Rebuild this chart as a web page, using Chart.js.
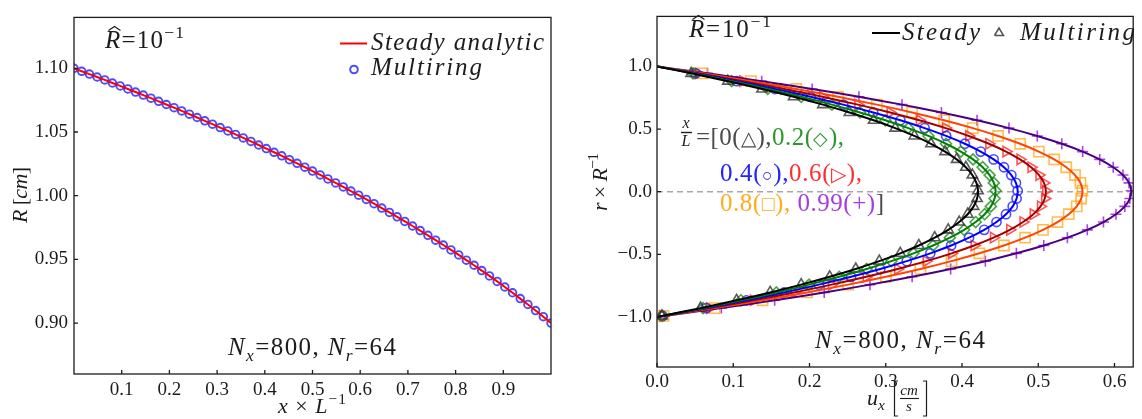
<!DOCTYPE html>
<html>
<head>
<meta charset="utf-8">
<script src="https://cdn.jsdelivr.net/npm/chart.js@4.4.1/dist/chart.umd.min.js"></script>
<style>
  html, body { margin: 0; padding: 0; background: #fff; }
  #wrap { position: relative; width: 1142px; height: 419px; overflow: hidden; background: #fff; }
  #cLeft { position: absolute; left: 0; top: 0; }
  #cRight { position: absolute; left: 570px; top: 0; }
</style>
</head>
<body>
<div id="wrap">
  <canvas id="cLeft" width="570" height="419"></canvas>
  <canvas id="cRight" width="572" height="419"></canvas>
</div>
<script>
// ---- left panel: tube radius along the axis (steady analytic = multiring) ----
const xAlong = [0, 0.0161, 0.0323, 0.0484, 0.0645, 0.0806, 0.0968, 0.1129, 0.1290, 0.1452,
  0.1613, 0.1774, 0.1935, 0.2097, 0.2258, 0.2419, 0.2581, 0.2742, 0.2903, 0.3065,
  0.3226, 0.3387, 0.3548, 0.3710, 0.3871, 0.4032, 0.4194, 0.4355, 0.4516, 0.4677,
  0.4839, 0.5000, 0.5161, 0.5323, 0.5484, 0.5645, 0.5806, 0.5968, 0.6129, 0.6290,
  0.6452, 0.6613, 0.6774, 0.6935, 0.7097, 0.7258, 0.7419, 0.7581, 0.7742, 0.7903,
  0.8065, 0.8226, 0.8387, 0.8548, 0.8710, 0.8871, 0.9032, 0.9194, 0.9355, 0.9516,
  0.9677, 0.9839, 1.0];
const radius = [1.1000, 1.0977, 1.0955, 1.0932, 1.0909, 1.0885, 1.0862, 1.0838, 1.0814, 1.0790,
  1.0766, 1.0741, 1.0716, 1.0691, 1.0666, 1.0640, 1.0614, 1.0588, 1.0562, 1.0535,
  1.0509, 1.0481, 1.0454, 1.0426, 1.0398, 1.0370, 1.0341, 1.0313, 1.0283, 1.0254,
  1.0224, 1.0193, 1.0163, 1.0132, 1.0100, 1.0069, 1.0036, 1.0004, 0.9971, 0.9937,
  0.9903, 0.9869, 0.9834, 0.9798, 0.9762, 0.9726, 0.9689, 0.9651, 0.9613, 0.9574,
  0.9535, 0.9494, 0.9454, 0.9412, 0.9370, 0.9327, 0.9283, 0.9238, 0.9192, 0.9146,
  0.9098, 0.9050, 0.9000];
const leftXTicks = [0.1, 0.2, 0.3, 0.4, 0.5, 0.6, 0.7, 0.8, 0.9];
const leftYTicks = [0.90, 0.95, 1.00, 1.05, 1.10];

// ---- right panel: velocity profiles at x/L = 0, 0.2, 0.4, 0.6, 0.8, 0.99 ----
// wall, ring positions (every 4th ring), wall
const rRing = [-1, -0.9922, -0.9297, -0.8672, -0.8047, -0.7422, -0.6797, -0.6172, -0.5547,
  -0.4922, -0.4297, -0.3672, -0.3047, -0.2422, -0.1797, -0.1172, -0.0547, 0.0078, 0.0703,
  0.1328, 0.1953, 0.2578, 0.3203, 0.3828, 0.4453, 0.5078, 0.5703, 0.6328, 0.6953, 0.7578,
  0.8203, 0.8828, 0.9453, 1];
const uAt0 = [0, 0.0065, 0.0571, 0.1044, 0.1484, 0.1891, 0.2265, 0.2606, 0.2915, 0.3190, 0.3433,
  0.3642, 0.3819, 0.3963, 0.4074, 0.4152, 0.4197, 0.4210, 0.4189, 0.4136, 0.4050, 0.3930, 0.3778,
  0.3593, 0.3375, 0.3124, 0.2841, 0.2524, 0.2175, 0.1792, 0.1377, 0.0929, 0.0448, 0];
const uAt02 = [0, 0.0069, 0.0603, 0.1101, 0.1565, 0.1994, 0.2389, 0.2749, 0.3074, 0.3364, 0.3620,
  0.3841, 0.4028, 0.4179, 0.4297, 0.4379, 0.4427, 0.4440, 0.4418, 0.4362, 0.4271, 0.4145, 0.3984,
  0.3790, 0.3560, 0.3295, 0.2996, 0.2662, 0.2294, 0.1890, 0.1452, 0.0980, 0.0472, 0];
const uAt04 = [0, 0.0073, 0.0642, 0.1173, 0.1667, 0.2124, 0.2545, 0.2928, 0.3275, 0.3584, 0.3857,
  0.4092, 0.4291, 0.4452, 0.4577, 0.4665, 0.4716, 0.4730, 0.4707, 0.4647, 0.4550, 0.4415, 0.4245,
  0.4037, 0.3792, 0.3510, 0.3192, 0.2836, 0.2443, 0.2014, 0.1547, 0.1044, 0.0503, 0];
const uAt06 = [0, 0.0079, 0.0692, 0.1265, 0.1798, 0.2290, 0.2744, 0.3157, 0.3531, 0.3864, 0.4159,
  0.4413, 0.4627, 0.4801, 0.4935, 0.5030, 0.5085, 0.5099, 0.5075, 0.5010, 0.4906, 0.4761, 0.4577,
  0.4353, 0.4089, 0.3785, 0.3441, 0.3058, 0.2635, 0.2171, 0.1668, 0.1126, 0.0543, 0];
const uAt08 = [0, 0.0086, 0.0757, 0.1384, 0.1967, 0.2506, 0.3002, 0.3455, 0.3863, 0.4228, 0.4550,
  0.4828, 0.5062, 0.5252, 0.5400, 0.5504, 0.5563, 0.5579, 0.5553, 0.5482, 0.5367, 0.5209, 0.5007,
  0.4763, 0.4473, 0.4141, 0.3765, 0.3346, 0.2883, 0.2375, 0.1825, 0.1232, 0.0594, 0];
const uAt099 = [0, 0.0096, 0.0844, 0.1543, 0.2193, 0.2793, 0.3346, 0.3851, 0.4306, 0.4713, 0.5072,
  0.5382, 0.5643, 0.5855, 0.6019, 0.6135, 0.6201, 0.6219, 0.6190, 0.6111, 0.5983, 0.5806, 0.5582,
  0.5309, 0.4987, 0.4616, 0.4197, 0.3730, 0.3213, 0.2648, 0.2035, 0.1373, 0.0662, 0];
const rightXTicks = [0, 0.1, 0.2, 0.3, 0.4, 0.5, 0.6];
const rightYTicks = [-1, -0.5, 0, 0.5, 1];

const profiles = [uAt0, uAt02, uAt04, uAt06, uAt08, uAt099];

// styles
const INK = '#1c1c1c';
const SERIF = 'Liberation Serif';
const lineColors = ['#000000', '#008000', '#0000ff', '#a30000', '#ff4500', '#4b0082'];
const markerLooks = [
  { pointStyle: 'triangle', radius: 6, color: 'rgba(50,50,50,0.8)', rot: 0 },
  { pointStyle: 'rectRot', radius: 5.5, color: 'rgba(30,140,30,0.8)', rot: 0 },
  { pointStyle: 'circle', radius: 4.6, color: 'rgba(30,30,255,0.8)', rot: 0 },
  { pointStyle: 'triangle', radius: 6, color: 'rgba(255,40,40,0.8)', rot: 90 },
  { pointStyle: 'rect', radius: 7.2, color: 'rgba(255,165,20,0.75)', rot: 0 },
  { pointStyle: 'cross', radius: 5.5, color: 'rgba(160,50,230,0.9)', rot: 0 }
];
const TXT = { gray: '#4a4a4a', green: 'rgb(45,150,45)', blue: 'rgb(35,35,255)', red: 'rgb(255,45,45)',
  orange: 'rgb(255,172,30)', purple: 'rgb(165,60,225)' };
const OFF = 570; // left of the right canvas on the page

// ---- text helpers (math-like labels) ----
function setFont(ctx, size, italic) {
  ctx.font = (italic ? 'italic ' : '') + size.toFixed(1) + 'px "' + SERIF + '"';
}
function runs(ctx, x, y, list, size, ls, draw) {
  for (const r of list) {
    const s = (r.sub || r.sup) ? size * 0.7 : size * (r.k || 1);
    setFont(ctx, s, r.i);
    const dy = r.sub ? size * 0.22 : r.sup ? -size * 0.42 : 0;
    for (const ch of r.t) {
      const w = ctx.measureText(ch).width;
      if (draw) {
        ctx.fillStyle = r.c || INK;
        ctx.fillText(ch, x, y + dy);
        if (r.hat) {
          const cx = x + w * 0.62, top = y - s * 0.7;
          ctx.strokeStyle = r.c || INK; ctx.lineWidth = 1.1;
          ctx.beginPath(); ctx.moveTo(cx - 6, top); ctx.lineTo(cx, top - 4); ctx.lineTo(cx + 6, top); ctx.stroke();
        }
      }
      x += w + ls;
    }
  }
  return x;
}
function fit(ctx, x, y, list, size, target) {
  const w0 = runs(ctx, 0, 0, list, size, 0, false);
  const n = list.reduce((a, r) => a + [...r.t].length, 0);
  const ls = n > 1 ? (target - w0) / (n - 1) : 0;
  return runs(ctx, x, y, list, size, ls, true);
}
function fitRotated(ctx, bx, cy, list, size, target) {
  ctx.save();
  ctx.translate(bx, cy);
  ctx.rotate(-Math.PI / 2);
  fit(ctx, -target / 2, 0, list, size, target);
  ctx.restore();
}
function centered(ctx, cx, y, t, size, italic) {
  setFont(ctx, size, italic);
  ctx.fillStyle = INK;
  ctx.fillText(t, cx - ctx.measureText(t).width / 2, y);
}
function seg(ctx, pts, color, lw) {
  ctx.strokeStyle = color; ctx.lineWidth = lw;
  ctx.beginPath(); ctx.moveTo(pts[0], pts[1]);
  for (let i = 2; i < pts.length; i += 2) ctx.lineTo(pts[i], pts[i + 1]);
  ctx.stroke();
}

// frame, inward ticks, optional dashed zero line
const axesBox = {
  id: 'axesBox',
  beforeDatasetsDraw(chart, args, opts) {
    if (!opts.zeroLine) return;
    const { ctx, chartArea: a, scales: { y } } = chart;
    const py = y.getPixelForValue(0);
    ctx.save();
    ctx.strokeStyle = '#a8a8a8'; ctx.lineWidth = 1.5; ctx.setLineDash([6, 4]);
    ctx.beginPath(); ctx.moveTo(a.left, py); ctx.lineTo(a.right, py); ctx.stroke();
    ctx.restore();
  },
  afterDatasetsDraw(chart) {
    const { ctx, chartArea: a, scales: { x, y } } = chart;
    ctx.save();
    ctx.strokeStyle = INK; ctx.lineWidth = 1.3; ctx.setLineDash([]);
    ctx.strokeRect(a.left, a.top, a.right - a.left, a.bottom - a.top);
    ctx.beginPath();
    x.ticks.forEach(t => { const p = x.getPixelForValue(t.value); ctx.moveTo(p, a.bottom); ctx.lineTo(p, a.bottom - 4); });
    y.ticks.forEach(t => { const p = y.getPixelForValue(t.value); ctx.moveTo(a.left, p); ctx.lineTo(a.left + 4, p); });
    ctx.stroke();
    ctx.restore();
  }
};

const leftNotes = {
  id: 'leftNotes',
  afterDraw(chart) {
    const ctx = chart.ctx;
    ctx.save();
    ctx.textAlign = 'left'; ctx.textBaseline = 'alphabetic';
    fit(ctx, 105, 48, [{ t: 'R', i: 1, hat: 1 }, { t: '=10' }, { t: '−1', sup: 1 }], 25, 79);
    seg(ctx, [340, 43.5, 367, 43.5], '#ff0000', 2);
    fit(ctx, 371, 50, [{ t: 'Steady analytic', i: 1 }], 25, 173);
    ctx.strokeStyle = 'rgba(30,30,255,0.8)'; ctx.lineWidth = 2;
    ctx.beginPath(); ctx.arc(354, 69.5, 3.8, 0, Math.PI * 2); ctx.stroke();
    fit(ctx, 371, 75, [{ t: 'Multiring', i: 1 }], 25, 111);
    fit(ctx, 228, 355, [{ t: 'N', i: 1 }, { t: 'x', i: 1, sub: 1 }, { t: '=800, ' }, { t: 'N', i: 1 },
      { t: 'r', i: 1, sub: 1 }, { t: '=64' }], 25, 168);
    fit(ctx, 278, 413, [{ t: 'x', i: 1 }, { t: ' × ' }, { t: 'L', i: 1 }, { t: '−1', sup: 1 }], 22, 68);
    fitRotated(ctx, 27, 195, [{ t: 'R', i: 1 }, { t: ' [' }, { t: 'cm', i: 1 }, { t: ']' }], 22, 56);
    ctx.restore();
  }
};

const rightNotes = {
  id: 'rightNotes',
  afterDraw(chart) {
    const ctx = chart.ctx;
    ctx.save();
    ctx.textAlign = 'left'; ctx.textBaseline = 'alphabetic';
    fit(ctx, 689 - OFF, 37, [{ t: 'R', i: 1, hat: 1 }, { t: '=10' }, { t: '−1', sup: 1 }], 25, 82);
    // legend
    seg(ctx, [872 - OFF, 33, 900 - OFF, 33], '#000', 2);
    fit(ctx, 902 - OFF, 40, [{ t: 'Steady', i: 1 }], 25, 78);
    seg(ctx, [994.5 - OFF, 35.5, 999 - OFF, 28, 1003.5 - OFF, 35.5, 994.5 - OFF, 35.5], 'rgba(50,50,50,0.85)', 1.5);
    fit(ctx, 1020 - OFF, 40, [{ t: 'Multiring', i: 1 }], 25, 115);
    // x/L list
    centered(ctx, 686 - OFF, 128, 'x', 16, true);
    seg(ctx, [681 - OFF, 132.5, 692 - OFF, 132.5], INK, 1.4);
    centered(ctx, 686 - OFF, 146, 'L', 16, true);
    fit(ctx, 696 - OFF, 145, [{ t: '=[0(', c: TXT.gray }, { t: '△', c: TXT.gray, k: 0.8 }, { t: '),', c: TXT.gray },
      { t: '0.2(', c: TXT.green }, { t: '◇', c: TXT.green, k: 0.75 }, { t: '),', c: TXT.green }], 25, 148);
    fit(ctx, 720 - OFF, 181, [{ t: '0.4(', c: TXT.blue }, { t: '○', c: TXT.blue, k: 0.7 }, { t: '),', c: TXT.blue },
      { t: '0.6(', c: TXT.red }, { t: '▷', c: TXT.red, k: 0.8 }, { t: '),', c: TXT.red }], 25, 142);
    fit(ctx, 720 - OFF, 211, [{ t: '0.8(', c: TXT.orange }, { t: '□', c: TXT.orange, k: 0.85 }, { t: '), ', c: TXT.orange },
      { t: '0.99(+)', c: TXT.purple }, { t: ']', c: TXT.gray }], 25, 164);
    fit(ctx, 815 - OFF, 348, [{ t: 'N', i: 1 }, { t: 'x', i: 1, sub: 1 }, { t: '=800, ' }, { t: 'N', i: 1 },
      { t: 'r', i: 1, sub: 1 }, { t: '=64' }], 25, 170);
    // axis titles
    fitRotated(ctx, 607 - OFF, 182, [{ t: 'r', i: 1 }, { t: ' × ' }, { t: 'R', i: 1 }, { t: '−1', sup: 1 }], 22, 58);
    runs(ctx, 867 - OFF, 405, [{ t: 'u', i: 1 }, { t: 'x', i: 1, sub: 1 }], 22, 0, true);
    seg(ctx, [898 - OFF, 381, 894.5 - OFF, 381, 894.5 - OFF, 416, 898 - OFF, 416], INK, 1.2);
    centered(ctx, 909 - OFF, 395, 'cm', 15, true);
    seg(ctx, [900 - OFF, 398.5, 919 - OFF, 398.5], INK, 1.1);
    centered(ctx, 909 - OFF, 411, 's', 15, true);
    seg(ctx, [923 - OFF, 381, 926.5 - OFF, 381, 926.5 - OFF, 416, 923 - OFF, 416], INK, 1.2);
    ctx.restore();
  }
};

function axis(min, max, tickList, fmt, size) {
  return {
    type: 'linear', min, max,
    grid: { display: false, drawTicks: false },
    border: { display: false },
    afterBuildTicks: s => { s.ticks = tickList.map(v => ({ value: v })); },
    afterFit: s => { if (size.w) s.width = size.w; if (size.h) s.height = size.h; },
    ticks: { font: { family: SERIF, size: 19 }, color: INK, padding: size.pad, maxRotation: 0,
      autoSkip: false, callback: fmt }
  };
}
const minus = v => (v < 0 ? '−' : '') + Math.abs(v).toFixed(1);

// left chart
const radiusPts = xAlong.map((x, i) => ({ x, y: radius[i] }));
new Chart(document.getElementById('cLeft'), {
  type: 'scatter',
  data: {
    datasets: [
      { data: radiusPts, showLine: true, pointRadius: 0, borderColor: '#ff0000', borderWidth: 2,
        order: 0, clip: 0 },
      { data: radiusPts, showLine: false, pointStyle: 'circle', pointRadius: 3.8, pointBorderWidth: 1.9,
        pointBorderColor: 'rgba(30,30,255,0.8)', pointBackgroundColor: 'rgba(0,0,0,0)', order: 1, clip: 0 }
    ]
  },
  options: {
    responsive: false, animation: false, events: [],
    layout: { padding: { top: 16, right: 19, left: 0, bottom: 0 } },
    plugins: { legend: { display: false }, tooltip: { enabled: false }, axesBox: { zeroLine: false } },
    scales: {
      x: axis(0, 1, leftXTicks, v => v.toFixed(1), { h: 45, pad: 5 }),
      y: axis(0.86, 1.14, leftYTicks, v => v.toFixed(2), { w: 74, pad: 6 })
    }
  },
  plugins: [axesBox, leftNotes]
});

// right chart
const rightSets = [];
profiles.forEach((u, k) => {
  const pts = rRing.map((r, i) => ({ x: u[i], y: r }));
  rightSets.push({ data: pts, showLine: true, pointRadius: 0, borderColor: lineColors[k], borderWidth: 2,
    tension: 0.3, order: 0, clip: 0 });
  const m = markerLooks[k];
  rightSets.push({ data: pts.slice(1, -1), showLine: false, pointStyle: m.pointStyle, pointRadius: m.radius,
    pointRotation: m.rot, pointBorderWidth: 1.6, pointBorderColor: m.color,
    pointBackgroundColor: 'rgba(0,0,0,0)', order: 1, clip: 0 });
});
new Chart(document.getElementById('cRight'), {
  type: 'scatter',
  data: { datasets: rightSets },
  options: {
    responsive: false, animation: false, events: [],
    layout: { padding: { top: 4, right: 1, left: 0, bottom: 0 } },
    plugins: { legend: { display: false }, tooltip: { enabled: false }, axesBox: { zeroLine: true } },
    scales: {
      x: axis(0, 0.6245, rightXTicks, minus, { h: 52, pad: 4 }),
      y: axis(-1.4, 1.4, rightYTicks, minus, { w: 87, pad: 5 })
    }
  },
  plugins: [axesBox, rightNotes]
});
</script>
</body>
</html>
